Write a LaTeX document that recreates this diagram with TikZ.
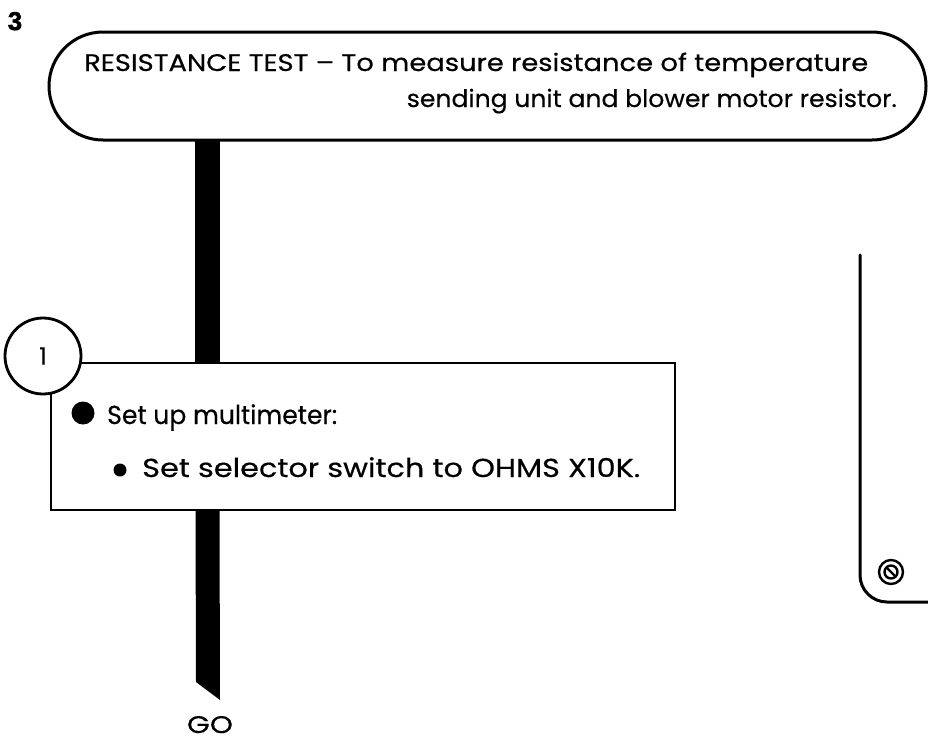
\documentclass[tikz,border=0pt]{standalone}
\usepackage{fontspec}
\setmainfont{Poppins}[FakeBold=0.4]
\newfontfamily\numfont{Liberation Sans Bold}[FakeBold=2]
\usetikzlibrary{shapes.misc,calc}
\newcommand{\fitw}[2]{\resizebox{#1}{\height}{#2}}
\tikzset{
  outline/.style={draw=black,line width=3pt,fill=white},
  txt/.style={inner sep=0pt,font=\fontsize{24}{28}\selectfont},
  boxtxt/.style={inner sep=0pt,font=\fontsize{26}{30}\selectfont},
  barfill/.style={fill=black,draw=none},
}
\begin{document}
\begin{tikzpicture}[x=1pt,y=-1pt]
\useasboundingbox (0,0) rectangle (928,740);
% step number
\node[inner sep=0pt,anchor=base,font=\numfont\fontsize{24}{28}\selectfont] (num) at (15,30) {\resizebox{!}{18pt}{3}};
% coordinates for the flow bar
\coordinate (barx) at (207.5,0);
\coordinate (barend) at (208,700);
% pill
\node[outline,rounded rectangle,minimum width=877pt,minimum height=108pt,inner sep=0pt] (pill) at (487.5,86) {};
% box
\node[outline,rectangle,minimum width=624pt,minimum height=147pt,inner sep=0pt,line width=2.6pt] (box) at (363,436.5) {};
% bar
\fill[barfill] ($(pill.south -| barx)+(-12.5,-1.5)$) rectangle ($(box.north -| barx)+(12.5,1.3)$);
\fill[barfill] ($(box.south -| barx)+(-12,-1.3)$) -- ($(box.south -| barx)+(12,-1.3)$) -- ($(barend)+(12,0)$) -- ($(barend)+(-12,-18)$) -- cycle;
% circle
\node[outline,circle,minimum size=76pt,inner sep=0pt,line width=2.8pt,font=\fontsize{24}{28}\selectfont] (c1) at (43,356) {1};
% pill texts
\node[txt,anchor=base west] (t1) at (84,71) {\fitw{784pt}{RESISTANCE TEST -- To measure resistance of temperature}};
\node[txt,anchor=base east] (t2) at (897,107) {\fitw{490pt}{sending unit and blower motor resistor.}};
% box texts
\fill (83,413) circle (11.5);
\node[boxtxt,anchor=base west] (b1) at (107,424) {\fitw{230pt}{Set up multimeter:}};
\fill (120,470) circle (6.5);
\node[boxtxt,anchor=base west] (b2) at (142,477) {\fitw{498pt}{Set selector switch to OHMS X10K.}};
% GO
\node[inner sep=0pt,anchor=base,font=\fontsize{24}{28}\selectfont] (go) at (210,733) {\fitw{46pt}{GO}};
% right panel
\draw[line width=3pt,rounded corners=27pt,line cap=round] (860,255) -- (860,602) -- (928,602);
\coordinate (sym) at (891,572);
\draw[line width=2.4pt] (sym) circle (12);
\draw[line width=2.4pt] (sym) circle (6.5);
\draw[line width=2.4pt] ($(sym)+(-4.6,-4.6)$) -- ($(sym)+(4.6,4.6)$);
\end{tikzpicture}
\end{document}
